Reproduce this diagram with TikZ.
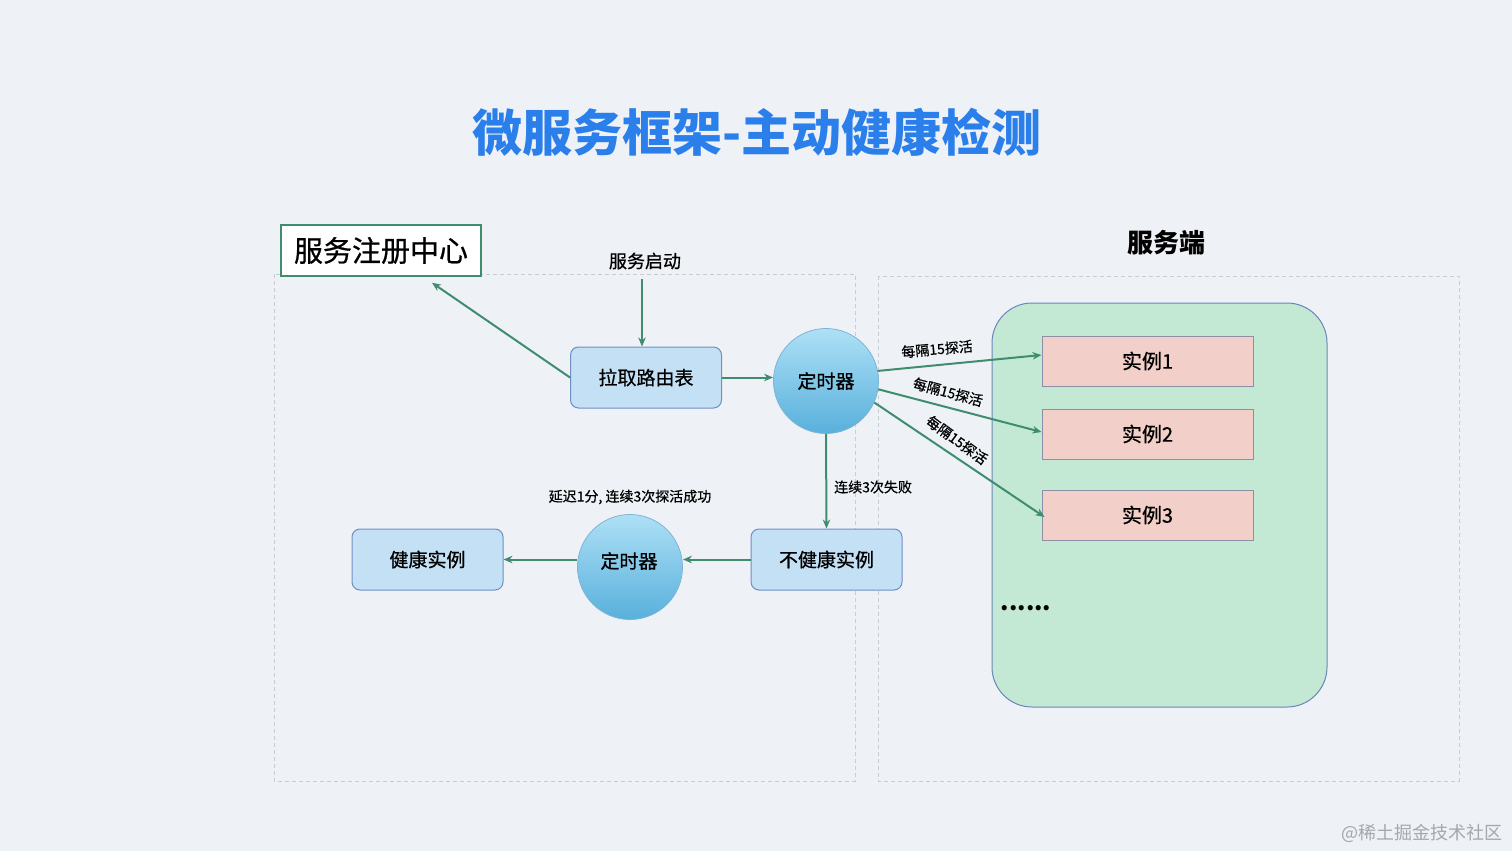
\documentclass[tikz,border=0pt]{standalone}
\usepackage{fontspec}
\setmainfont{Noto Sans CJK SC}
\newfontfamily\medf{Noto Sans CJK SC}[FakeBold=0.7]
\usetikzlibrary{calc,arrows.meta}
\definecolor{bg}{HTML}{EEF2F7}
\definecolor{titleblue}{HTML}{2B7FEA}
\definecolor{dashgray}{HTML}{C8CDD4}
\definecolor{lgreen}{HTML}{3F8C6E}
\definecolor{bfill}{HTML}{C3E0F4}
\definecolor{bborder}{HTML}{6F8EC4}
\definecolor{ctop}{HTML}{AEE0F6}
\definecolor{cbot}{HTML}{58B0DC}
\definecolor{cbord}{HTML}{7FB3D3}
\definecolor{gfill}{HTML}{C3E9D4}
\definecolor{gborder}{HTML}{6A86B8}
\definecolor{ifill}{HTML}{F2CFC8}
\definecolor{iborder}{HTML}{8C8FA6}
\definecolor{wm}{HTML}{A3A8AE}
\begin{document}
\begin{tikzpicture}[x=1pt,y=-1pt,
  arr/.style={draw=lgreen, line width=2pt, -{Stealth[length=9pt,width=7.5pt]}},
  dashbox/.style={draw=dashgray, line width=1pt, dash pattern=on 4pt off 3pt},
  bluebox/.style={draw=bborder, fill=bfill, rounded corners=8pt, minimum width=151pt, minimum height=61pt, line width=1pt, font=\medf\fontsize{19}{19}\selectfont},
  timer/.style={circle, minimum size=105pt, inner sep=0pt, top color=ctop, bottom color=cbot, draw=cbord, line width=0.8pt, font=\medf\fontsize{19}{19}\selectfont},
  inst/.style={draw=iborder, fill=ifill, minimum width=211pt, minimum height=50pt, line width=1pt, font=\medf\fontsize{20}{20}\selectfont},
  lbl/.style={font=\medf\fontsize{14}{14}\selectfont, inner sep=1pt}]
\useasboundingbox (0,0) rectangle (1512,851);
\fill[bg] (0,0) rectangle (1512,851);
% title
\node[font=\fontsize{50}{50}\selectfont\bfseries, text=titleblue] (title) at (757,132) {微服务框架-主动健康检测};
% dashed regions
\draw[dashbox] (274,274) rectangle (855,781);
\draw[dashbox] (878,276) rectangle (1459,781);
% registry
\node[draw=lgreen, fill=white, line width=1.5pt, minimum width=200pt, minimum height=51pt, font=\medf\fontsize{29}{29}\selectfont] (reg) at (381,250.5) {服务注册中心};
\node[font=\fontsize{26}{26}\selectfont\bfseries] (srvlbl) at (1166,243) {服务端};
% server panel
\node[draw=gborder, fill=gfill, rounded corners=40pt, minimum width=335pt, minimum height=404pt, line width=1pt] (panel) at (1159.5,505) {};
\node[inst] (i1) at (1147.5,361) {实例1};
\node[inst] (i2) at (1147.5,434) {实例2};
\node[inst] (i3) at (1147.5,515) {实例3};
\node[font=\fontsize{24}{24}\selectfont\bfseries] (dots) at (1026,608) {......};
% left flow
\node[font=\medf\fontsize{18}{18}\selectfont] (start) at (645,261) {服务启动};
\node[bluebox] (route) at (646,377.5) {拉取路由表};
\node[timer] (t1) at (826,381) {定时器};
\node[bluebox] (unh) at (826.5,559.5) {不健康实例};
\node[timer] (t2) at (630,567) {};
\node[font=\medf\fontsize{19}{19}\selectfont] (t2txt) at (629,561) {定时器};
\node[bluebox] (hea) at (427.5,559.5) {健康实例};
% connectors
\draw[arr] ($(start.south)+(-3,6)$) -- (route.north -| 642,0);
\draw[arr] (route.west) -- ($(reg.south)+(51,6)$);
\draw[arr] (route.east) -- (t1.west |- route.east);
\draw[arr] (t1.11) -- ($(i1.west)+(0,-6)$);
\draw[arr] (t1.-9) -- ($(i2.west)+(0,-2)$);
\draw[arr] (t1.-24) -- ($(i3.west)+(3,2)$);
\draw[arr] (t1.south) -- (unh.north);
\draw[arr] (unh.west) -- (t2.east |- unh.west);
\draw[arr] (t2.west |- unh.west) -- (hea.east);
% labels
\node[lbl, rotate=5] (l1) at (937,349) {每隔15探活};
\node[lbl, rotate=-15] (l2) at (948,392) {每隔15探活};
\node[lbl, rotate=-36] (l3) at (957,440) {每隔15探活};
\node[lbl, anchor=west] (l4) at (833,487) {连续3次失败};
\node[lbl] (l5) at (630,497) {延迟1分, 连续3次探活成功};
% watermark
\node[font=\fontsize{18}{18}\selectfont, text=wm, anchor=east] (wmark) at (1506,833) {@稀土掘金技术社区};
\end{tikzpicture}
\end{document}
